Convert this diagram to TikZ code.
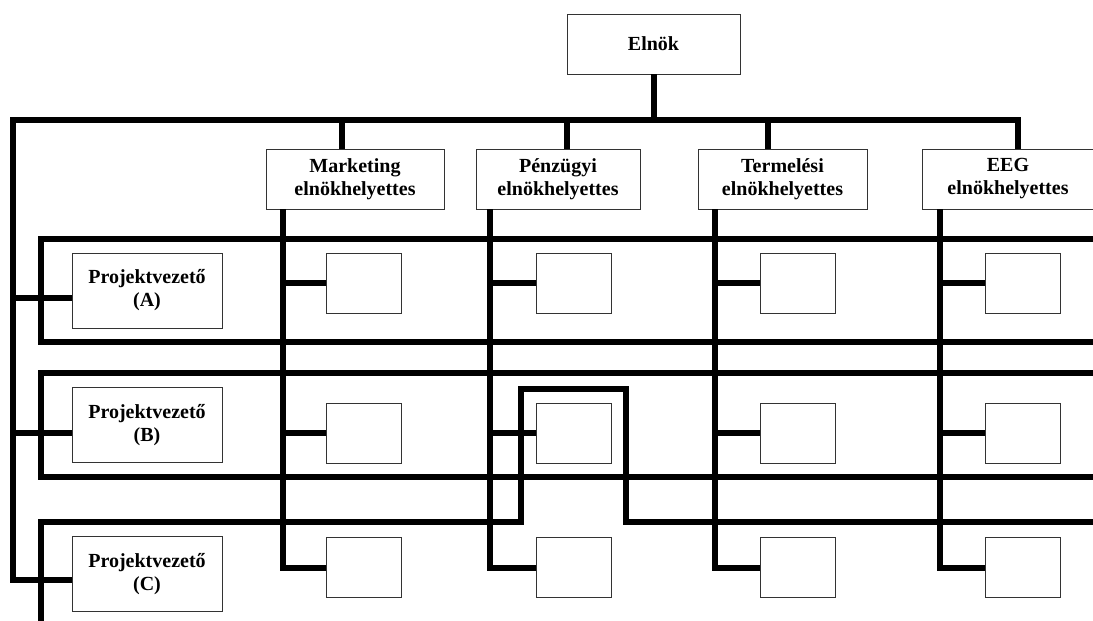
\documentclass[tikz,border=0pt]{standalone}
\usepackage{fontspec}
\setmainfont{Liberation Serif}
\begin{document}
\begin{tikzpicture}[x=1pt,y=-1pt,
  box/.style={draw=black!80, line width=0.8pt, fill=white, align=center,
    inner sep=0pt, font=\bfseries\fontsize{20}{23}\selectfont},
  cell/.style={box, minimum width=75pt, minimum height=60pt},
  vpbox/.style={box, minimum height=60pt},
  pvbox/.style={box, minimum width=150pt, minimum height=75pt},
  bus/.style={line width=6pt, line join=miter}]
\useasboundingbox (0,0) rectangle (1093,621);

% top level and vice presidents
\node[box, minimum width=173pt, minimum height=60pt] (elnok) at (653.5,44) {Elnök};
\node[vpbox, minimum width=178pt] (mk)  at (355,179)   {Marketing\\elnökhelyettes};
\node[vpbox, minimum width=164pt] (pz)  at (558,179)   {Pénzügyi\\elnökhelyettes};
\node[vpbox, minimum width=169pt] (tm)  at (782.5,179) {Termelési\\elnökhelyettes};
\node[vpbox, minimum width=172pt] (eeg) at (1008,179)  {EEG\\elnökhelyettes};

% project managers
\node[pvbox] (pvA) at (147,290.5) {Projektvezető\\(A)};
\node[pvbox] (pvB) at (147,425) {Projektvezető\\(B)};
\node[pvbox] (pvC) at (147,574) {Projektvezető\\(C)};

% matrix cells
\foreach \c/\x in {mk/364, pz/573.5, tm/797.5, ee/1022.5}{
  \node[cell] (\c A) at (\x,283)   {};
  \node[cell] (\c B) at (\x,433)   {};
  \node[cell] (\c C) at (\x,567.5) {};
}

% trunk from the president
\coordinate (trunk) at (13,120);
\draw[bus] (elnok.south) -- (elnok.south |- trunk);
\draw[bus] ([yshift=-6pt]pvC.west) -| (trunk) -| ([xshift=10pt]eeg.north);
\draw[bus] ([xshift=-13pt]mk.north) -- ([xshift=-13pt]mk.north |- trunk);
\draw[bus] ([xshift=9pt]pz.north) -- ([xshift=9pt]pz.north |- trunk);
\draw[bus] ([xshift=-15pt]tm.north) -- ([xshift=-15pt]tm.north |- trunk);
\draw[bus] ([yshift=-7.5pt]pvA.west) -- ([yshift=-7.5pt]pvA.west -| trunk);
\draw[bus] ([yshift=-8pt]pvB.west) -- ([yshift=-8pt]pvB.west -| trunk);

% project bands
\coordinate (aTR) at (1093,239); \coordinate (aTL) at (41,239);
\coordinate (aBL) at (41,342);  \coordinate (aBR) at (1093,342);
\draw[bus] (aTR) -- (aTL) -- (aBL) -- (aBR);
\coordinate (bTR) at (1093,373); \coordinate (bTL) at (41,373);
\coordinate (bBL) at (41,477);  \coordinate (bBR) at (1093,477);
\draw[bus] (bTR) -- (bTL) -- (bBL) -- (bBR);
\coordinate (cBot) at (41,624); \coordinate (cTL) at (41,522);
\coordinate (cR) at (1093,522);
\draw[bus] (cBot) -- (cTL) -- ([xshift=-15pt]pzB.west |- cTL)
  -- ([xshift=-15pt,yshift=14pt]pzB.north west)
  -- ([xshift=15pt,yshift=14pt]pzB.north east)
  -- ([xshift=15pt]pzB.east |- cTL) -- (cR);

% vice president lines down to the cells
\foreach \c/\v/\d in {mk/mk/17, pz/pz/14, tm/tm/17, ee/eeg/18}{
  \coordinate (\c v) at ([xshift=\d pt]\v.south west);
  \draw[bus] (\c v) |- (\c C.west);
  \draw[bus] (\c A.west) -- (\c A.west -| \c v);
  \draw[bus] (\c B.west) -- (\c B.west -| \c v);
}
\end{tikzpicture}
\end{document}
